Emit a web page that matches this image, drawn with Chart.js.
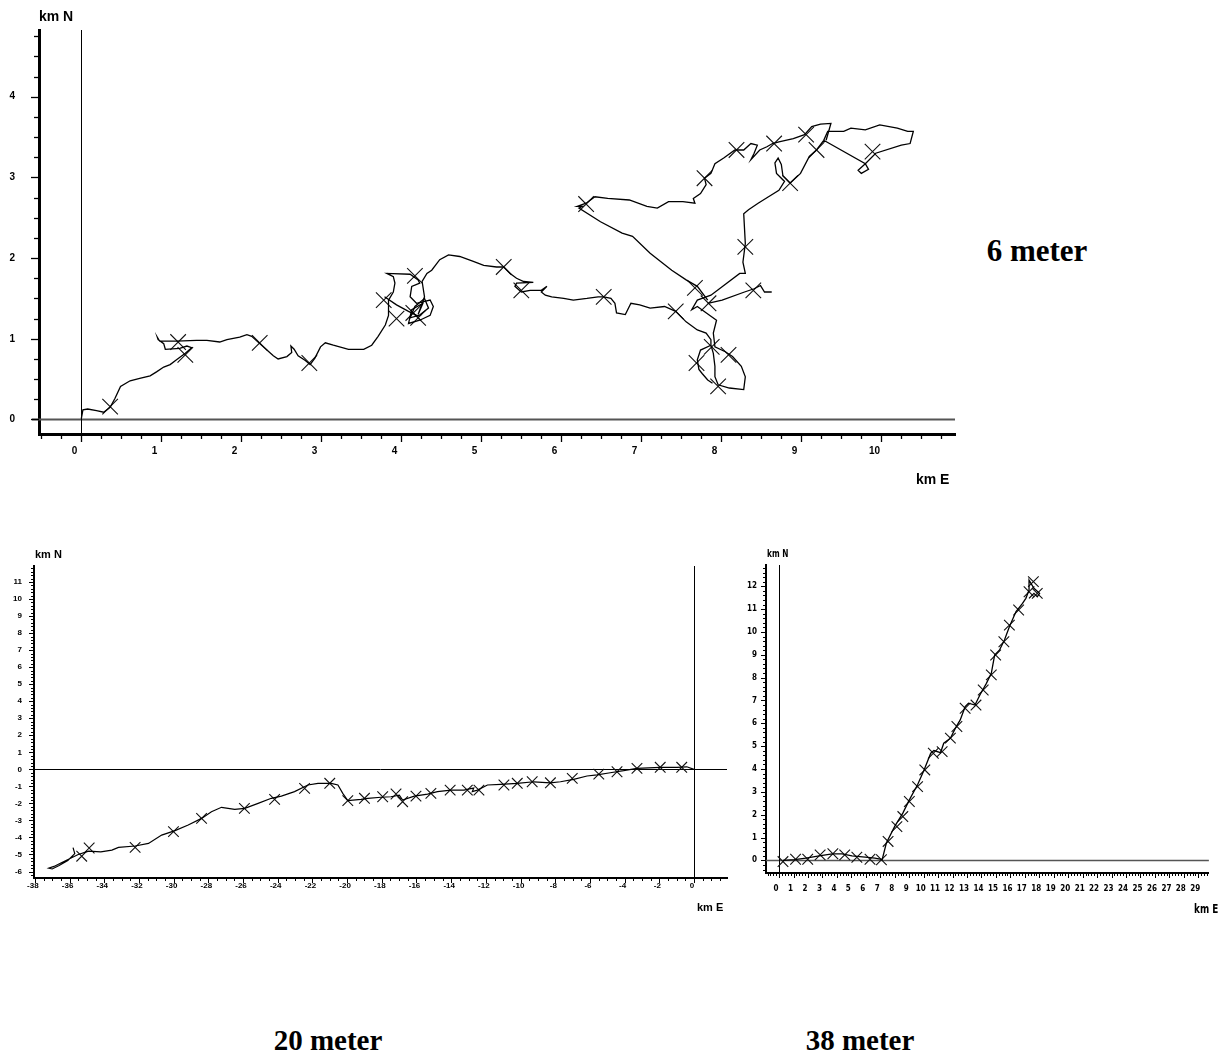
<!DOCTYPE html>
<html>
<head>
<meta charset="utf-8">
<script src="https://cdn.jsdelivr.net/npm/chart.js@4.4.1/dist/chart.umd.min.js"></script>
<style>
  body { margin: 0; background: #fff; }
  #page { position: relative; width: 1218px; height: 1055px; overflow: hidden; background: #fff; }
  canvas { position: absolute; }
  .ax { position: absolute; font-family: "Liberation Sans", Arial, sans-serif; font-weight: bold; color: #000; white-space: nowrap; line-height: 1; }
  .nar { font-family: "Liberation Sans Narrow", "DejaVu Sans Condensed", "Liberation Sans", sans-serif; transform-origin: 0 0; transform: scaleX(0.82); }
  .cap { position: absolute; font-family: "Liberation Serif", "Times New Roman", serif; font-weight: bold; white-space: nowrap; line-height: 1; transform: translate(-50%, -50%); }
</style>
</head>
<body>
<div id="page">
  <canvas id="c6" width="960" height="500" style="left:0;top:0"></canvas>
  <canvas id="c20" width="740" height="400" style="left:0;top:540px"></canvas>
  <canvas id="c38" width="478" height="380" style="left:740px;top:540px"></canvas>

  <div class="ax" style="left:39px;top:9px;font-size:14px">km N</div>
  <div class="ax" style="left:916px;top:472px;font-size:14px">km E</div>
  <div class="ax" style="left:35px;top:549px;font-size:11px">km N</div>
  <div class="ax" style="left:697px;top:902px;font-size:11px">km E</div>
  <div class="ax nar" style="left:767px;top:549px;font-size:10px">km N</div>
  <div class="ax nar" style="left:1194px;top:903px;font-size:12px">km E</div>

  <div class="cap" style="left:1037px;top:250px;font-size:31px">6 meter</div>
  <div class="cap" style="left:328px;top:1040px;font-size:29px">20 meter</div>
  <div class="cap" style="left:860px;top:1040px;font-size:29px">38 meter</div>
</div>
<script>
// ---- 6 meter track (km E, km N) ----
const track6Main = [
  [0.01,0.01],[0.03,0.12],[0.09,0.13],[0.20,0.11],[0.29,0.09],[0.37,0.15],[0.43,0.26],[0.50,0.41],
  [0.62,0.48],[0.74,0.51],[0.87,0.54],[0.95,0.59],[1.04,0.65],[1.12,0.68],[1.20,0.74],[1.31,0.82],
  [1.39,0.89],[1.33,0.91],[1.24,0.88],[1.06,0.87],[1.04,0.94],[0.97,0.99],[0.96,1.02],[0.99,0.97],
  [1.20,0.97],[1.45,0.98],[1.58,0.98],[1.74,0.96],[1.83,0.99],[1.99,1.02],[2.08,1.05],[2.14,1.03],
  [2.24,0.94],[2.33,0.86],[2.41,0.79],[2.47,0.75],[2.58,0.78],[2.64,0.83],[2.63,0.91],[2.67,0.87],
  [2.72,0.79],[2.81,0.73],[2.87,0.68],[2.93,0.76],[3.00,0.90],[3.06,0.95],[3.16,0.92],[3.35,0.87],
  [3.54,0.87],[3.64,0.92],[3.72,1.03],[3.81,1.17],[3.85,1.29],[3.85,1.48],[3.91,1.58],[3.93,1.69],
  [3.91,1.77],[3.83,1.81],[4.12,1.80],[4.22,1.73],[4.24,1.69],[4.14,1.65],[4.12,1.52],[4.20,1.44],
  [4.37,1.48],[4.41,1.40],[4.37,1.29],[4.24,1.23],[4.10,1.19],[4.14,1.36],[4.28,1.44],[4.22,1.30],
  [4.30,1.52],[4.27,1.71],[4.33,1.81],[4.39,1.85],[4.49,1.98],[4.60,2.04],[4.74,2.02],[4.91,1.96],
  [5.04,1.91],[5.20,1.89],[5.29,1.89],[5.37,1.81],[5.45,1.75],[5.54,1.71],[5.66,1.70],[5.45,1.69],
  [5.43,1.65],[5.51,1.58],[5.62,1.60],[5.76,1.60],[5.83,1.65],[5.76,1.58],[5.81,1.54],[5.89,1.52],
  [6.04,1.50],[6.16,1.48],[6.33,1.50],[6.47,1.52],[6.54,1.52],[6.63,1.50],[6.68,1.44],[6.70,1.32],
  [6.81,1.30],[6.88,1.44],[6.99,1.42],[7.12,1.38],[7.30,1.40],[7.44,1.34],[7.57,1.21],[7.71,1.11],
  [7.82,1.07],[7.88,0.99],[7.88,0.92],[7.91,0.82],[7.93,0.66],[7.93,0.53],[7.97,0.43],[8.11,0.39],
  [8.29,0.37],[8.31,0.53],[8.26,0.66],[8.15,0.78],[8.06,0.84],[7.93,0.90],[7.91,1.07],[7.95,1.23],
  [7.88,1.28],[7.71,1.40],[7.64,1.36],[7.71,1.48],[7.88,1.54],[8.24,1.81],[8.31,1.81],[8.28,1.95],
  [8.31,2.18],[8.29,2.55],[8.35,2.60],[8.47,2.68],[8.60,2.76],[8.73,2.84],[8.80,2.95],[8.70,3.05],
  [8.68,3.18],[8.72,3.24],[8.76,3.16],[8.78,3.02],[8.87,2.93],[9.00,3.05],[9.11,3.26],[9.20,3.34],
  [9.29,3.46],[9.34,3.57],[9.54,3.57],[9.63,3.61],[9.81,3.59],[9.99,3.65],[10.21,3.61],[10.34,3.57],
  [10.41,3.57],[10.37,3.42],[10.26,3.40],[9.94,3.30],[9.81,3.17],[9.72,3.09],[9.76,3.05],[9.85,3.10],
  [9.81,3.17],[9.29,3.46]
];
const track6North = [
  [7.84,1.48],[7.71,1.65],[7.57,1.73],[7.39,1.85],[7.12,2.06],[6.90,2.27],[6.77,2.31],[6.50,2.45],
  [6.23,2.62],[6.27,2.64],[6.21,2.64],[6.32,2.68],[6.43,2.76],[6.59,2.74],[6.86,2.72],[7.08,2.64],
  [7.21,2.62],[7.35,2.70],[7.53,2.70],[7.68,2.68],[7.66,2.74],[7.75,2.80],[7.82,2.91],[7.80,2.99],
  [7.88,3.05],[7.93,3.17],[8.04,3.24],[8.18,3.34],[8.29,3.34],[8.38,3.42],[8.46,3.40],[8.42,3.30],
  [8.38,3.22],[8.49,3.34],[8.58,3.38],[8.65,3.42],[8.73,3.44],[8.91,3.48],[9.05,3.53],[9.14,3.63],
  [9.25,3.66],[9.38,3.67],[9.32,3.46]
];
const track6East = [[7.84,1.44],[8.02,1.48],[8.30,1.58],[8.42,1.62],[8.50,1.66],[8.55,1.58],[8.64,1.58]];
const track6South = [[7.88,0.92],[7.75,0.86],[7.71,0.74],[7.73,0.62],[7.77,0.57],[7.84,0.49],[7.90,0.45]];
const track6Knot = [
  [3.80,1.52],[3.95,1.42],[4.10,1.34],[4.22,1.28],[4.35,1.38],[4.30,1.50],[4.18,1.40],[4.12,1.26],[4.26,1.30]
];
const marks6 = [
  [0.37,0.16],[1.22,0.96],[1.31,0.80],[2.24,0.95],[2.86,0.70],[3.79,1.48],[3.95,1.25],[4.16,1.32],
  [4.18,1.78],[4.22,1.26],[5.29,1.89],[5.51,1.60],[6.54,1.52],[7.44,1.34],[7.68,1.63],[7.85,1.44],
  [7.89,0.90],[8.10,0.80],[7.70,0.70],[7.97,0.41],[8.41,1.60],[8.31,2.14],[8.87,2.93],[9.20,3.34],
  [9.07,3.53],[8.67,3.42],[8.20,3.34],[7.80,2.99],[6.32,2.67],[9.90,3.32]
];

// ---- 20 meter track ----
const track20 = [
  [0.00,0.00],[-0.42,0.15],[-0.99,0.12],[-1.95,0.12],[-3.29,0.06],[-4.06,-0.08],[-4.83,-0.20],
  [-5.59,-0.33],[-6.17,-0.39],[-6.94,-0.59],[-7.70,-0.73],[-8.28,-0.79],[-9.24,-0.73],[-10.19,-0.82],
  [-11.15,-0.88],[-11.91,-0.92],[-12.49,-1.22],[-12.78,-1.31],[-12.70,-1.10],[-12.95,-1.15],
  [-13.26,-1.22],[-14.02,-1.22],[-14.79,-1.31],[-15.36,-1.45],[-16.13,-1.57],[-16.80,-1.80],
  [-16.99,-1.51],[-17.47,-1.61],[-18.05,-1.64],[-18.81,-1.70],[-19.20,-1.76],[-19.96,-1.84],
  [-20.25,-1.41],[-20.53,-0.92],[-20.92,-0.82],[-21.68,-0.82],[-22.26,-0.92],[-23.03,-1.31],
  [-23.79,-1.57],[-24.37,-1.70],[-25.13,-2.00],[-25.90,-2.29],[-26.48,-2.35],[-27.24,-2.23],
  [-27.82,-2.49],[-28.39,-2.88],[-29.16,-3.27],[-29.92,-3.60],[-30.69,-3.86],[-31.45,-4.35],
  [-32.22,-4.50],[-33.18,-4.58],[-33.56,-4.74],[-34.20,-4.85],[-34.90,-4.80],[-35.50,-5.00],
  [-36.00,-5.25],[-36.50,-5.50],[-36.90,-5.70],[-37.20,-5.80],[-37.00,-5.85],[-36.60,-5.65],
  [-36.10,-5.35],[-35.70,-4.95],[-35.80,-4.60]
];
const marks20 = [
  [-0.71,0.12],[-1.95,0.12],[-3.29,0.06],[-4.44,-0.14],[-5.49,-0.28],[-7.02,-0.53],[-8.28,-0.79],
  [-9.33,-0.73],[-10.19,-0.82],[-10.96,-0.92],[-12.40,-1.22],[-13.07,-1.22],[-14.06,-1.22],
  [-15.17,-1.41],[-16.03,-1.57],[-16.80,-1.90],[-17.18,-1.45],[-17.95,-1.61],[-19.00,-1.70],
  [-19.96,-1.84],[-21.00,-0.82],[-22.45,-1.12],[-24.18,-1.76],[-25.92,-2.29],[-28.39,-2.88],
  [-30.01,-3.66],[-32.22,-4.58],[-34.87,-4.62],[-35.30,-5.10]
];

// ---- 38 meter track ----
const track38 = [
  [0.27,0.00],[1.07,0.03],[1.86,0.10],[2.77,0.20],[3.68,0.29],[4.36,0.29],[5.04,0.20],[5.95,0.14],
  [6.63,0.10],[7.08,0.05],[7.13,0.03],[7.42,0.76],[7.99,1.48],[8.56,2.07],[9.01,2.65],[9.58,3.31],
  [10.03,3.96],[10.49,4.69],[10.71,4.81],[11.17,4.72],[11.39,5.13],[11.85,5.35],[12.19,5.78],
  [12.53,6.15],[12.87,6.73],[13.10,6.88],[13.55,6.80],[13.89,7.24],[14.34,7.75],[14.68,8.19],
  [14.91,8.99],[15.25,9.21],[15.59,9.65],[15.93,10.23],[16.39,10.89],[16.84,11.25],[17.07,11.47],
  [17.29,11.83],[17.29,12.27],[17.63,11.91],[18.02,11.69],[17.86,11.54],[17.63,11.69],[17.29,11.47]
];
const marks38 = [
  [0.27,-0.05],[1.14,0.05],[1.98,0.05],[2.84,0.24],[3.72,0.29],[4.54,0.24],[5.38,0.14],[6.29,0.05],
  [7.08,0.03],[7.54,0.83],[8.15,1.48],[8.56,1.92],[9.01,2.58],[9.58,3.23],[10.08,3.96],[10.67,4.69],
  [11.28,4.76],[11.85,5.35],[12.30,5.86],[12.87,6.66],[13.62,6.80],[14.12,7.46],[14.68,8.12],
  [14.98,8.99],[15.55,9.57],[15.93,10.30],[16.57,10.96],[17.29,11.76],[17.59,12.20],[17.86,11.69]
];

const SANS = '"Liberation Sans", Arial, sans-serif';
const NARROW = '"Liberation Sans Narrow", "DejaVu Sans Condensed", "Liberation Sans", sans-serif';

const onStep = (v, every) => Math.abs(v / every - Math.round(v / every)) < 1e-6;

// zero lines through the origin and ruler-style tick marks on both axes
const axisDecor = {
  id: 'axisDecor',
  beforeDatasetsDraw(chart, args, o) {
    const { ctx, chartArea: a, scales: { x, y } } = chart;
    ctx.save();
    const y0 = Math.round(y.getPixelForValue(0)) + 0.5;
    const x0 = Math.round(x.getPixelForValue(0)) + 0.5;
    ctx.strokeStyle = o.hColor;
    ctx.lineWidth = o.hWidth;
    ctx.beginPath(); ctx.moveTo(a.left - o.hExtend, y0); ctx.lineTo(a.right, y0); ctx.stroke();
    ctx.strokeStyle = o.vColor;
    ctx.lineWidth = o.vWidth;
    ctx.beginPath(); ctx.moveTo(x0, a.top); ctx.lineTo(x0, a.bottom); ctx.stroke();

    ctx.strokeStyle = '#000';
    ctx.lineWidth = o.tickWidth;
    x.ticks.forEach(t => {
      const px = Math.round(x.getPixelForValue(t.value)) + 0.5;
      const len = onStep(t.value, o.xEvery) ? o.major : o.minor;
      ctx.beginPath(); ctx.moveTo(px, a.bottom); ctx.lineTo(px, a.bottom + len); ctx.stroke();
    });
    y.ticks.forEach(t => {
      const py = Math.round(y.getPixelForValue(t.value)) + 0.5;
      const len = onStep(t.value, o.yEvery) ? o.major : o.minor;
      ctx.beginPath(); ctx.moveTo(a.left, py); ctx.lineTo(a.left - len, py); ctx.stroke();
    });
    ctx.restore();
  }
};

const pts = arr => arr.map(([x, y]) => ({ x, y }));

function trackPlot(id, p) {
  const lines = p.tracks.map(t => ({
    data: pts(t), showLine: true, borderColor: '#000', borderWidth: p.lineWidth,
    pointRadius: 0, tension: 0, fill: false
  }));
  const crosses = {
    data: pts(p.marks), showLine: false, pointStyle: 'crossRot', pointRadius: p.markRadius,
    borderColor: '#111', borderWidth: 1.1, backgroundColor: 'transparent'
  };
  return new Chart(document.getElementById(id), {
    type: 'scatter',
    data: { datasets: [...lines, crosses] },
    options: {
      responsive: false,
      animation: false,
      events: [],
      layout: { autoPadding: false, padding: { top: p.top, right: p.right, left: 0, bottom: 0 } },
      plugins: {
        legend: { display: false },
        tooltip: { enabled: false },
        axisDecor: p.decor
      },
      scales: {
        x: {
          type: 'linear', min: p.x[0], max: p.x[1],
          afterFit: s => { s.height = p.xHeight; },
          border: { display: true, width: p.axisWidth, color: '#000' },
          grid: { display: true, color: 'transparent', drawTicks: false },
          ticks: {
            stepSize: p.xStep, autoSkip: false, includeBounds: false, maxRotation: 0,
            labelOffset: p.xLabelOffset, padding: p.xPad, color: '#000', font: p.font,
            callback: v => onStep(v, p.decor.xEvery) ? String(Math.round(v)) : ''
          }
        },
        y: {
          type: 'linear', min: p.y[0], max: p.y[1],
          afterFit: s => { s.width = p.yWidth; },
          border: { display: true, width: p.axisWidth, color: '#000' },
          grid: { display: true, color: 'transparent', drawTicks: false },
          ticks: {
            stepSize: p.yStep, autoSkip: false, includeBounds: false,
            padding: p.yPad, color: '#000', font: p.font,
            callback: v => onStep(v, p.decor.yEvery) ? String(Math.round(v)) : ''
          }
        }
      }
    },
    plugins: [axisDecor]
  });
}

trackPlot('c6', {
  tracks: [track6Main, track6North, track6East, track6South, track6Knot], marks: marks6,
  lineWidth: 1.3, markRadius: 11,
  top: 30, right: 5, xHeight: 66, yWidth: 39, axisWidth: 3,
  x: [-0.519, 10.931], y: [-0.180, 4.827], xStep: 0.25, yStep: 0.25,
  xLabelOffset: -6, xPad: 11, yPad: 24,
  font: { family: SANS, size: 10, weight: 'bold' },
  decor: { xEvery: 1, yEvery: 1, major: 8, minor: 5, tickWidth: 1.3,
           hColor: '#555', hWidth: 2, hExtend: 7, vColor: '#000', vWidth: 1 }
});

trackPlot('c20', {
  tracks: [track20], marks: marks20,
  lineWidth: 1.2, markRadius: 7.5,
  top: 26, right: 13, xHeight: 62, yWidth: 34, axisWidth: 2,
  x: [-38.05, 1.90], y: [-6.38, 11.94], xStep: 0.5, yStep: 0.2,
  xLabelOffset: -2, xPad: 3, yPad: 12,
  font: { family: SANS, size: 8, weight: 'bold' },
  decor: { xEvery: 2, yEvery: 1, major: 5, minor: 3, tickWidth: 1,
           hColor: '#000', hWidth: 1, hExtend: 0, vColor: '#000', vWidth: 1 }
});

trackPlot('c38', {
  tracks: [track38], marks: marks38,
  lineWidth: 1.3, markRadius: 7.5,
  top: 25, right: 2, xHeight: 47, yWidth: 26, axisWidth: 2,
  x: [-0.905, 29.73], y: [-0.551, 12.93], xStep: 0.2, yStep: 0.2,
  xLabelOffset: -3, xPad: 11, yPad: 9,
  font: { family: NARROW, size: 8, weight: 'bold' },
  decor: { xEvery: 1, yEvery: 1, major: 5, minor: 3, tickWidth: 1,
           hColor: '#555', hWidth: 1.5, hExtend: 0, vColor: '#000', vWidth: 1 }
});
</script>
</body>
</html>
